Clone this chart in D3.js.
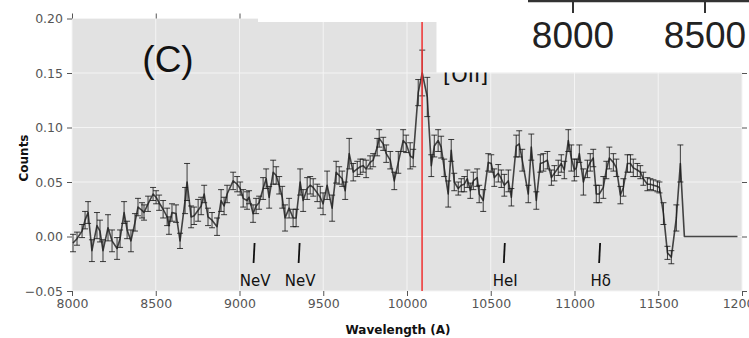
<!DOCTYPE html>
<html>
<head>
<meta charset="utf-8">
<script src="https://cdn.jsdelivr.net/npm/d3@7"></script>
<style>
  body { margin: 0; background: #fff; }
  svg { display: block; font-family: "DejaVu Sans", sans-serif; }
</style>
</head>
<body>
<div id="chart"></div>
<script>

// spectrum
var wavelength = [
  8006,8030,8060,8078,8096,8119,8149,8167,8185,8215,8239,8269,8287,8311,8329,8352,8376,8394,8418,8430,
  8454,8484,8502,8520,8544,8568,8579,8597,8621,8645,8675,8687,8711,8729,8753,8771,8789,8812,8836,8866,
  8890,8908,8926,8962,8986,9004,9022,
  9045,9057,9081,9099,9117,9141,9159,9177,9201,9219,9237,9255,9272,9296,9320,9338,9362,9380,9404,9422,
  9440,9464,9482,9499,9523,9553,9577,9595,9613,9631,9655,9679,9703,9721,9738,9756,9780,9798,9822,9834,
  9858,9876,9900,9924,9948,9977,9995,10019,10037,
  10067,10091,10121,10145,10163,10186,10204,10222,10246,10264,10282,10306,10324,10342,10360,10378,10396,10419,10431,10455,
  10485,10503,10521,10545,10563,10581,10605,10623,10652,10670,10688,10724,10742,10772,10796,10814,10838,10862,10880,10903,
  10921,10939,10963,10981,10999,
  11011,11029,11053,11077,11094,11112,11130,11148,11172,11190,11208,11232,11250,11274,11292,11316,11334,11351,11375,11393,
  11411,11435,11453,11471,11495,11507,11531,11555,11578,11608,11632,11656,11973
];

var counts = [
  -0.006,-0.002,0.005,0.015,0.022,-0.013,0.010,0.005,-0.013,0.008,-0.004,-0.011,-0.002,0.022,0.006,-0.004,0.013,0.027,0.024,0.022,
  0.030,0.039,0.036,0.031,0.025,0.018,0.010,0.022,0.021,-0.004,0.033,0.050,0.018,0.019,0.024,0.028,0.039,0.018,0.015,0.009,
  0.033,0.028,0.039,0.051,0.048,0.044,0.035,
  0.033,0.036,0.021,0.028,0.031,0.044,0.053,0.036,0.059,0.056,0.047,0.036,0.017,0.026,0.017,0.017,0.050,0.033,0.044,0.047,
  0.045,0.040,0.036,0.030,0.047,0.026,0.059,0.056,0.053,0.042,0.076,0.059,0.062,0.064,0.065,0.062,0.068,0.070,0.082,0.090,
  0.085,0.076,0.070,0.051,0.068,0.088,0.085,0.074,0.072,
  0.132,0.150,0.128,0.065,0.083,0.088,0.082,0.063,0.039,0.079,0.050,0.044,0.047,0.048,0.053,0.042,0.051,0.054,0.039,0.033,
  0.068,0.067,0.054,0.058,0.053,0.047,0.051,0.036,0.083,0.085,0.070,0.039,0.082,0.033,0.067,0.068,0.070,0.054,0.058,0.063,
  0.067,0.061,0.088,0.072,0.061,
  0.063,0.076,0.050,0.062,0.068,0.072,0.039,0.039,0.045,0.061,0.072,0.068,0.063,0.038,0.045,0.067,0.067,0.063,0.061,0.059,
  0.053,0.048,0.048,0.047,0.046,0.045,0.021,-0.015,-0.019,0.017,0.067,0.000,0.000
];

var errors = [
  0.008,0.006,0.006,0.008,0.010,0.010,0.012,0.010,0.010,0.012,0.010,0.010,0.008,0.010,0.008,0.010,0.008,0.008,0.007,0.007,
  0.007,0.006,0.006,0.007,0.008,0.008,0.008,0.008,0.008,0.007,0.012,0.017,0.010,0.008,0.010,0.008,0.008,0.008,0.007,0.008,
  0.010,0.008,0.008,0.008,0.007,0.006,0.008,
  0.008,0.006,0.008,0.007,0.006,0.010,0.009,0.010,0.011,0.008,0.008,0.010,0.012,0.009,0.008,0.008,0.012,0.010,0.010,0.008,
  0.008,0.008,0.010,0.010,0.013,0.012,0.010,0.008,0.007,0.008,0.014,0.008,0.007,0.007,0.006,0.008,0.006,0.006,0.008,0.008,
  0.006,0.008,0.008,0.008,0.010,0.010,0.008,0.012,0.008,
  0.012,0.021,0.018,0.010,0.010,0.010,0.010,0.008,0.012,0.010,0.008,0.006,0.006,0.007,0.008,0.007,0.008,0.008,0.008,0.010,
  0.008,0.008,0.008,0.008,0.008,0.010,0.010,0.008,0.010,0.012,0.010,0.008,0.012,0.008,0.008,0.008,0.008,0.007,0.007,0.007,
  0.008,0.008,0.010,0.012,0.010,
  0.008,0.008,0.012,0.008,0.008,0.008,0.008,0.008,0.010,0.008,0.010,0.008,0.008,0.008,0.008,0.008,0.008,0.008,0.006,0.006,
  0.006,0.006,0.005,0.005,0.005,0.005,0.010,0.006,0.006,0.012,0.017,0,0
];

// emission lines marked below the spectrum
var lineNames = ["NeV", "NeV", "HeI", "Hδ"];
var lineWaves = [9087, 9356, 10581, 11150];
var oiiWave = 10090;

var xTicks = [8000, 8500, 9000, 9500, 10000, 10500, 11000, 11500, 12000];
var yTicks = [-0.05, 0.00, 0.05, 0.10, 0.15, 0.20];
// ticks of the pasted-over panel in the top right corner
var insetTicks = ["8000", "8500"];

var data = wavelength.map(function(w, i){ return {w: w, c: counts[i], e: errors[i]}; });

var W = 749, H = 338;
var margin = {top: 18.5, right: 7, bottom: 47, left: 72};

var svg = d3.select("#chart").append("svg")
  .attr("width", W)
  .attr("height", H);

var x = d3.scaleLinear().domain([8000, 12000]).range([margin.left, W - margin.right]);
var y = d3.scaleLinear().domain([-0.05, 0.20]).range([H - margin.bottom, margin.top]);

// ggplot grey panel
svg.append("rect")
  .attr("x", x(8000)).attr("y", y(0.20))
  .attr("width", x(12000) - x(8000))
  .attr("height", y(-0.05) - y(0.20))
  .attr("fill", "#e2e2e2");

// white grid
svg.append("g").selectAll("line")
  .data(xTicks).enter().append("line")
    .attr("x1", d => x(d)).attr("x2", d => x(d))
    .attr("y1", y(0.20)).attr("y2", y(-0.05))
    .attr("stroke", "#f4f4f4").attr("stroke-width", 1);
svg.append("g").selectAll("line")
  .data(yTicks).enter().append("line")
    .attr("x1", x(8000)).attr("x2", x(12000))
    .attr("y1", d => y(d)).attr("y2", d => y(d))
    .attr("stroke", "#f4f4f4").attr("stroke-width", 1);

// error bars with caps
var withErr = data.filter(d => d.e > 0);
var eb = svg.append("g")
  .attr("stroke", "#111")
  .attr("stroke-opacity", 0.8)
  .attr("stroke-width", 1);

eb.append("g").selectAll("line")
  .data(withErr).enter().append("line")
    .attr("x1", d => x(d.w)).attr("x2", d => x(d.w))
    .attr("y1", d => y(d.c - d.e)).attr("y2", d => y(d.c + d.e));

eb.append("g").selectAll("line")
  .data(withErr).enter().append("line")
    .attr("x1", d => x(d.w) - 3).attr("x2", d => x(d.w) + 3)
    .attr("y1", d => y(d.c + d.e)).attr("y2", d => y(d.c + d.e));

eb.append("g").selectAll("line")
  .data(withErr).enter().append("line")
    .attr("x1", d => x(d.w) - 3).attr("x2", d => x(d.w) + 3)
    .attr("y1", d => y(d.c - d.e)).attr("y2", d => y(d.c - d.e));

// the spectrum itself
svg.append("path")
  .datum(data)
  .attr("fill", "none")
  .attr("stroke", "#1a1a1a")
  .attr("stroke-opacity", 0.8)
  .attr("stroke-width", 1.6)
  .attr("stroke-linejoin", "round")
  .attr("d", d3.line().x(d => x(d.w)).y(d => y(d.c)));

// [OII] marker
svg.append("line")
  .attr("x1", x(oiiWave)).attr("x2", x(oiiWave))
  .attr("y1", y(0.20)).attr("y2", y(-0.05))
  .attr("stroke", "#f03030")
  .attr("stroke-width", 1.5);

// line ids
var ids = svg.append("g").selectAll("g")
  .data(lineNames.map((n, i) => ({name: n, w: lineWaves[i]})))
  .enter().append("g");

ids.append("line")
  .attr("x1", d => x(d.w) + 0.5).attr("x2", d => x(d.w) - 0.5)
  .attr("y1", 243).attr("y2", 263)
  .attr("stroke", "#111").attr("stroke-width", 1.8);

ids.append("text")
  .attr("x", d => x(d.w) + 1)
  .attr("y", 285.5)
  .attr("text-anchor", "middle")
  .attr("font-size", 15)
  .attr("fill", "#111")
  .text(d => d.name);

svg.append("text")
  .attr("x", 443).attr("y", 81.5)
  .attr("font-size", 21)
  .attr("fill", "#111")
  .text("[OII]");

svg.append("text")
  .attr("x", 168).attr("y", 72)
  .attr("text-anchor", "middle")
  .attr("font-family", "Liberation Sans, Arial, sans-serif")
  .attr("font-size", 37)
  .attr("fill", "#111")
  .text("(C)");

// axes: grey outward ticks on all four sides
var tickCol = "#555";
var noLabel = d => "";

var axBottom = d3.axisBottom(x).tickValues(xTicks).tickSize(5).tickPadding(3).tickFormat(d3.format("d"));
var axTop = d3.axisTop(x).tickValues(xTicks).tickSize(5).tickFormat(noLabel);
var axLeft = d3.axisLeft(y).tickValues(yTicks).tickSize(5).tickPadding(4)
  .tickFormat(d => d3.format(".2f")(d).replace("-", "\u2212"));
var axRight = d3.axisRight(y).tickValues(yTicks).tickSize(5).tickFormat(noLabel);

svg.append("g").attr("transform", "translate(0," + y(-0.05) + ")").call(axBottom);
svg.append("g").attr("transform", "translate(0," + y(0.20) + ")").call(axTop);
svg.append("g").attr("transform", "translate(" + x(8000) + ",0)").call(axLeft);
svg.append("g").attr("transform", "translate(" + x(12000) + ",0)").call(axRight);

svg.selectAll(".domain").remove();
svg.selectAll(".tick line").attr("stroke", tickCol);
svg.selectAll(".tick text")
  .attr("fill", tickCol)
  .attr("font-size", 12.5)
  .attr("font-family", "DejaVu Sans, sans-serif");

// axis titles
svg.append("text")
  .attr("x", 398).attr("y", 334)
  .attr("text-anchor", "middle")
  .attr("font-size", 12)
  .attr("font-weight", "bold")
  .attr("fill", "#111")
  .text("Wavelength (A)");

svg.append("text")
  .attr("transform", "translate(28,158) rotate(-90)")
  .attr("text-anchor", "middle")
  .attr("font-size", 12)
  .attr("font-weight", "bold")
  .attr("fill", "#111")
  .text("Counts");

// white patches pasted over the figure
svg.append("rect")
  .attr("x", 258).attr("y", 0)
  .attr("width", 179).attr("height", 22)
  .attr("fill", "#fff");

svg.append("rect")
  .attr("x", 436.5).attr("y", 0)
  .attr("width", W - 436.5).attr("height", 72.5)
  .attr("fill", "#fff");

// bit of another axis visible on that patch
var insetX = [573, 705];
svg.append("line")
  .attr("x1", 528).attr("x2", W)
  .attr("y1", 1).attr("y2", 1)
  .attr("stroke", "#333").attr("stroke-width", 2.5);

svg.append("g").selectAll("line")
  .data(insetX).enter().append("line")
    .attr("x1", d => d).attr("x2", d => d)
    .attr("y1", 0).attr("y2", 13)
    .attr("stroke", "#333").attr("stroke-width", 2);

svg.append("g").selectAll("text")
  .data(insetTicks).enter().append("text")
    .attr("x", (d, i) => insetX[i])
    .attr("y", 48)
    .attr("text-anchor", "middle")
    .attr("font-family", "Liberation Sans, Arial, sans-serif")
    .attr("font-size", 37)
    .attr("fill", "#222")
    .text(d => d);

</script>
</body>
</html>
